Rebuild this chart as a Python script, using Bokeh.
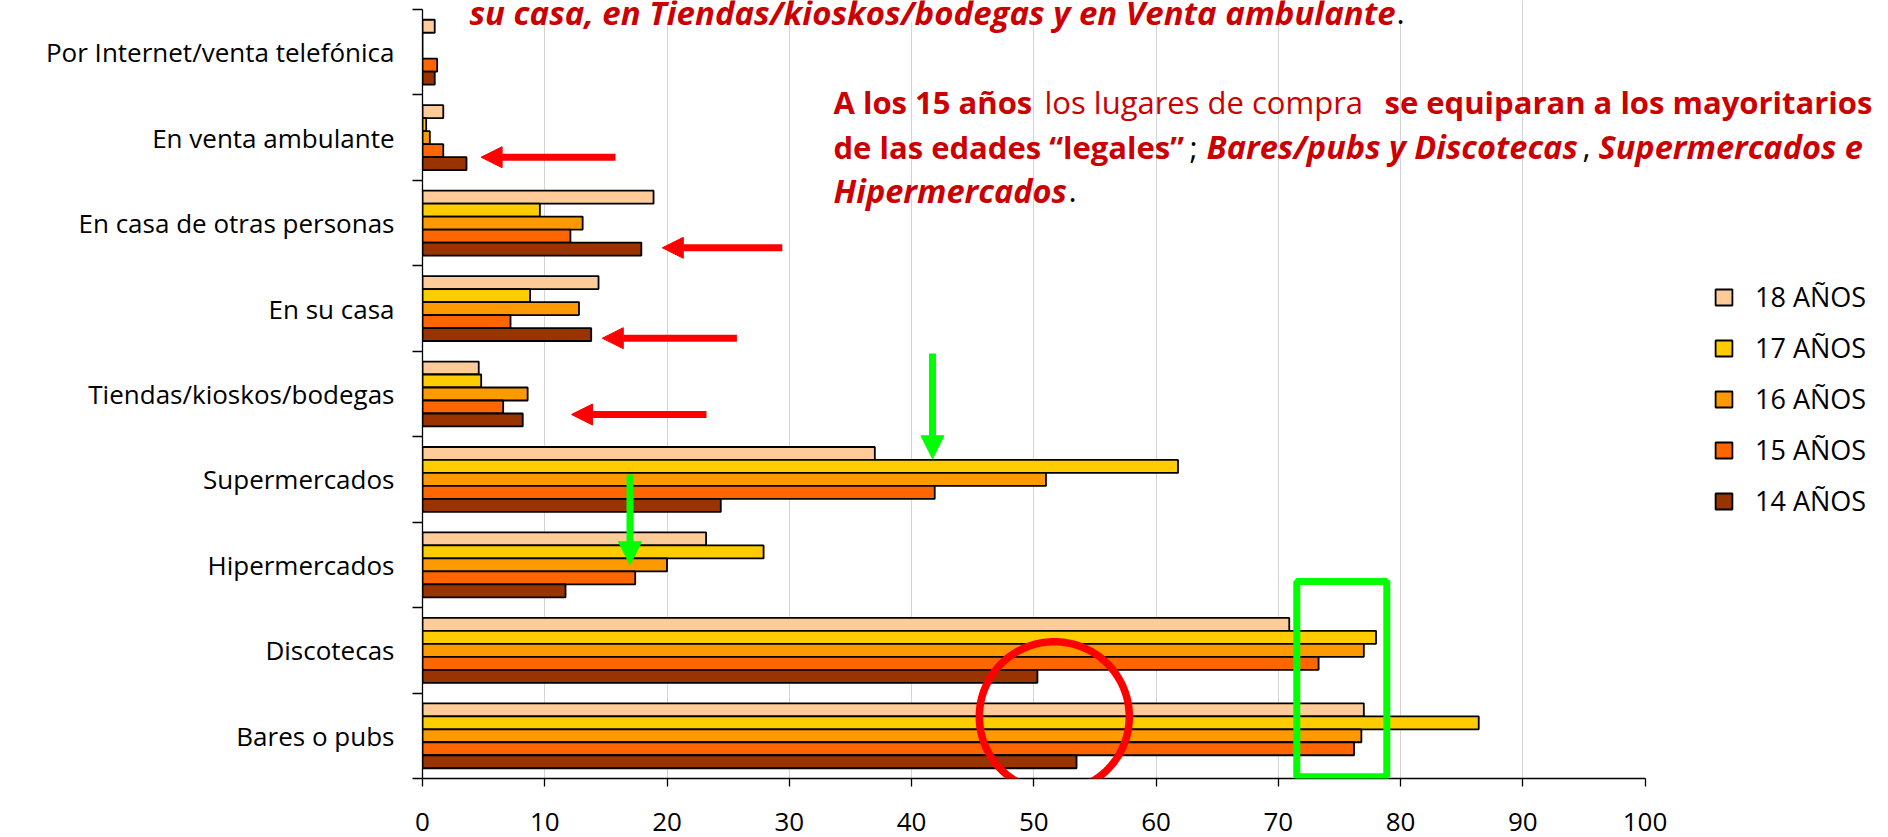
import numpy as np
from bokeh.plotting import figure
from bokeh.models import (ColumnDataSource, Range1d, FixedTicker,
                          Legend, LegendItem, Label, Arrow, NormalHead, BoxAnnotation,
                          PolyAnnotation)
from bokeh.transform import dodge
from bokeh.embed import file_html
from bokeh.resources import INLINE

# ---------------- data ----------------
categories = ["Bares o pubs", "Discotecas", "Hipermercados", "Supermercados",
              "Tiendas/kioskos/bodegas", "En su casa", "En casa de otras personas",
              "En venta ambulante", "Por Internet/venta telefónica"]
series_names = ["18 AÑOS", "17 AÑOS", "16 AÑOS", "15 AÑOS", "14 AÑOS"]
v18 = [77.0, 70.9, 23.2, 37.0, 4.6, 14.4, 18.9, 1.7, 1.0]
v17 = [86.4, 78.0, 27.9, 61.8, 4.8, 8.8, 9.6, 0.3, 0.0]
v16 = [76.8, 77.0, 20.0, 51.0, 8.6, 12.8, 13.1, 0.6, 0.0]
v15 = [76.2, 73.3, 17.4, 41.9, 6.6, 7.2, 12.1, 1.7, 1.2]
v14 = [53.5, 50.3, 11.7, 24.4, 8.2, 13.8, 17.9, 3.6, 1.0]
x_ticks = [0, 10, 20, 30, 40, 50, 60, 70, 80, 90, 100]

# ---------------- styles / layout ----------------
colors = ["#FFCC99", "#FFCC00", "#FF9900", "#FF6600", "#993300"]
BAR_H = 0.152
offsets = [2 * BAR_H, BAR_H, 0.0, -BAR_H, -2 * BAR_H]
FONT = "Open Sans"
RED_TXT = "#CC0000"

W, H = 1888, 837
X0_PX, X100_PX = 422, 1644.5     # page px of value 0 and value 100
Y0_PX, YTOP_PX = 778, 9          # page px of bottom / top of the category slots

n_cat = len(categories)
centers = [i + 0.5 for i in range(n_cat)]       # category slots on the y scale
bounds = [float(i) for i in range(n_cat + 1)]   # slot boundaries (Excel-style ticks)

x_end = x_ticks[-1] * (W - X0_PX) / (X100_PX - X0_PX)   # frame runs to the right edge
y_end = n_cat * Y0_PX / (Y0_PX - YTOP_PX)                # frame runs to the top edge

src = ColumnDataSource(dict(cat=categories, pos=centers,
                            v18=v18, v17=v17, v16=v16, v15=v15, v14=v14))

p = figure(width=W, height=H, y_range=Range1d(0, y_end), x_range=Range1d(x_ticks[0], x_end),
           output_backend="svg", toolbar_location=None, title=None,
           min_border_left=X0_PX, min_border_right=0, min_border_top=0,
           min_border_bottom=H - Y0_PX)
p.outline_line_color = None
p.background_fill_color = "white"
p.border_fill_color = "white"

def px_x(X):
    return (X - X0_PX) / (X100_PX - X0_PX) * x_ticks[-1]
def px_y(Y):
    return (Y0_PX - Y) / (Y0_PX - YTOP_PX) * n_cat

# grid
p.xgrid.ticker = FixedTicker(ticks=x_ticks[1:-1])
p.xgrid.grid_line_color = "#D4D4D4"
p.xgrid.grid_line_width = 1
p.ygrid.grid_line_color = None

# x axis
xa = p.xaxis[0]
xa.bounds = (x_ticks[0], x_ticks[-1])
xa.ticker = FixedTicker(ticks=x_ticks)
xa.major_tick_out = 8
xa.major_tick_in = 0
xa.minor_tick_line_color = None
xa.axis_line_color = "black"
xa.axis_line_width = 1.3
xa.major_tick_line_color = "black"
xa.major_tick_line_width = 1.3
xa.major_label_text_font = FONT
xa.major_label_text_font_size = "26px"
xa.major_label_text_color = "black"
xa.major_label_standoff = 26

# y axis: labels at slot centers, tick marks at slot boundaries
ya = p.yaxis[0]
ya.bounds = (0, n_cat)
ya.ticker = FixedTicker(ticks=centers, minor_ticks=bounds)
ya.major_label_overrides = {c: lab for c, lab in zip(centers, categories)}
ya.axis_line_color = "black"
ya.axis_line_width = 1.3
ya.major_tick_line_color = None
ya.major_tick_out = 10
ya.major_tick_in = 0
ya.minor_tick_line_color = "black"
ya.minor_tick_line_width = 1.3
ya.minor_tick_out = 10
ya.minor_tick_in = 0
ya.major_label_text_font = FONT
ya.major_label_text_font_size = "26px"
ya.major_label_text_color = "black"
ya.major_label_standoff = 18

# bars
cols = ["v18", "v17", "v16", "v15", "v14"]
rends = []
for col, off, c in zip(cols, offsets, colors):
    r = p.hbar(y=dodge("pos", off), left=0, right=col, height=BAR_H,
               source=src, fill_color=c, line_color="black", line_width=1.8)
    rends.append(r)

legend = Legend(items=[LegendItem(label=n, renderers=[r]) for n, r in zip(series_names, rends)],
                location=(1291, 259), orientation="vertical",
                glyph_width=21, glyph_height=20, label_standoff=21, spacing=14,
                padding=0, margin=0, border_line_color=None, background_fill_alpha=0,
                label_text_font=FONT, label_text_font_size="27px", label_text_color="black")
p.add_layout(legend)

# ---------------- annotations ----------------
# white box behind the (cut) top sentence
p.add_layout(BoxAnnotation(left=px_x(460), right=px_x(1404), bottom=px_y(21), top=px_y(-10),
                           fill_color="white", fill_alpha=1, line_color=None))

red_arrows = [((615, 156.7), (480.6, 156.7)), ((781.8, 247.3), (661.8, 247.3)),
              ((736.4, 337.7), (601.8, 337.7)), ((706, 414), (571, 414))]
for (xs, ys), (xe, ye) in red_arrows:
    p.add_layout(Arrow(x_start=px_x(xs), y_start=px_y(ys), x_end=px_x(xe), y_end=px_y(ye),
                       line_color="#FF0000", line_width=7,
                       end=NormalHead(size=21, fill_color="#FF0000", line_color="#FF0000", line_width=1)))

green_arrows = [((932, 353), (932, 458.3)), ((629.5, 474), (629.5, 564.3))]
for (xs, ys), (xe, ye) in green_arrows:
    p.add_layout(Arrow(x_start=px_x(xs), y_start=px_y(ys), x_end=px_x(xe), y_end=px_y(ye),
                       line_color="#00FF00", line_width=7,
                       end=NormalHead(size=23, fill_color="#00FF00", line_color="#00FF00", line_width=1)))

p.add_layout(BoxAnnotation(left=px_x(1296.3), right=px_x(1386.3), top=px_y(581), bottom=px_y(776.3),
                           fill_color=None, fill_alpha=0, line_color="#00FF00", line_alpha=1,
                           line_width=7))

t = np.linspace(0, 2 * np.pi, 181)
cx, cy, rr = 1053.8, 716.2, 75.0
p.add_layout(PolyAnnotation(xs=list(px_x(cx + rr * np.cos(t))), ys=list(px_y(cy + rr * np.sin(t))),
                            fill_color=None, fill_alpha=0, line_color="#FF0000", line_alpha=1,
                            line_width=7.5))

# text segments: (text, x px, baseline px, style, color, size)
TOP, BIG, SMALL = "33px", "32.5px", "31px"
segments = [
    ("su casa, en Tiendas/kioskos/bodegas y en Venta ambulante", 469, 12, "bold italic", RED_TXT, TOP),
    (".", 1396, 12, "normal", "black", SMALL),
    ("A los 15 años", 833, 101, "bold", RED_TXT, SMALL),
    ("los lugares de compra", 1044, 101, "normal", RED_TXT, SMALL),
    ("se equiparan a los mayoritarios", 1384, 101, "bold", RED_TXT, SMALL),
    ("de las edades \u201clegales\u201d", 833, 146, "bold", RED_TXT, SMALL),
    (";", 1189, 146, "normal", "black", SMALL),
    ("Bares/pubs y Discotecas", 1206, 146, "bold italic", RED_TXT, BIG),
    (",", 1582, 146, "normal", "black", SMALL),
    ("Supermercados e", 1598, 146, "bold italic", RED_TXT, BIG),
    ("Hipermercados", 833, 190, "bold italic", RED_TXT, BIG),
    (".", 1068, 190, "normal", "black", SMALL),
]
for txt, X, Y, style, col, size in segments:
    p.add_layout(Label(x=px_x(X), y=px_y(Y), text=txt,
                       text_font=FONT, text_font_size=size, text_font_style=style,
                       text_color=col, text_baseline="alphabetic", text_align="left"))

open("out.html", "w").write(file_html(p, INLINE))
